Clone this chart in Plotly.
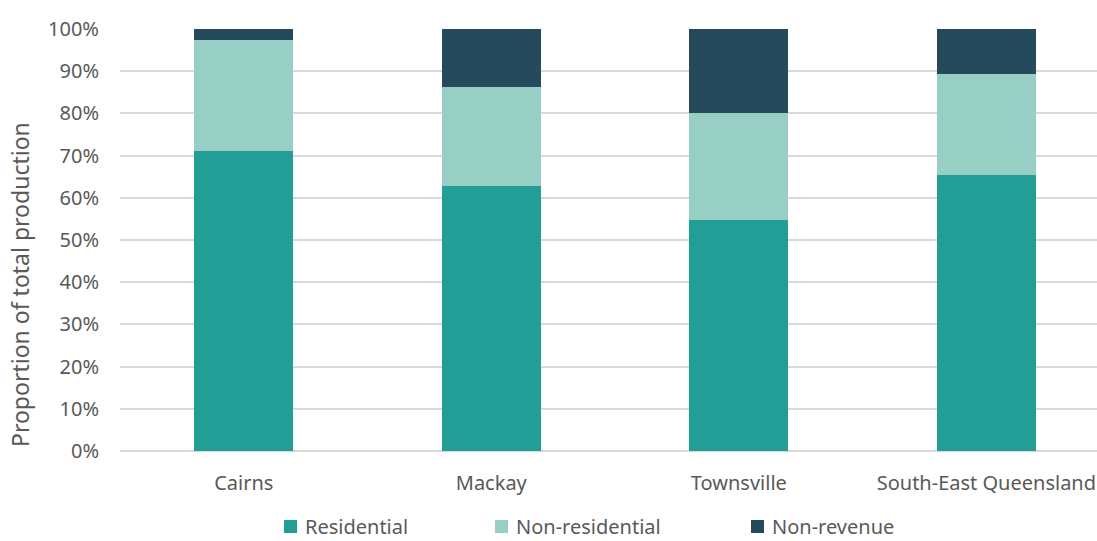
import plotly.graph_objects as go

categories = ["Cairns", "Mackay", "Townsville", "South-East Queensland"]
residential = [0.711, 0.628, 0.547, 0.654]
non_residential = [0.262, 0.235, 0.254, 0.240]
non_revenue = [0.027, 0.137, 0.199, 0.106]
tick_vals = [0, 0.1, 0.2, 0.3, 0.4, 0.5, 0.6, 0.7, 0.8, 0.9, 1.0]
tick_text = ["0%", "10%", "20%", "30%", "40%", "50%", "60%", "70%", "80%", "90%", "100%"]
y_title = "Proportion of total production"

series_names = ["Residential", "Non-residential", "Non-revenue"]
series_values = [residential, non_residential, non_revenue]
series_colors = ["#239E97", "#97CFC5", "#254A5B"]

# page-pixel geometry of the plot area (for placing the custom legend / title)
PL, PR, PT, PB = 120, 1097, 29, 451
def px_x(x):
    return (x - PL) / (PR - PL)
def px_y(y):
    return (PB - y) / (PB - PT)

legend_marker_left = [284, 495, 751]
LEG_Y = 526

fig = go.Figure()
for name, vals, color in zip(series_names, series_values, series_colors):
    fig.add_trace(go.Bar(
        x=categories, y=vals, name=name, marker_color=color,
        marker_line_width=0, width=0.4, showlegend=False,
    ))

shapes = []
annotations = [dict(text=y_title, textangle=-90, xref="paper", yref="paper",
                    x=px_x(20), y=px_y(285), xanchor="center", yanchor="middle",
                    showarrow=False, font=dict(size=23, color="#595959"))]
for name, color, left in zip(series_names, series_colors, legend_marker_left):
    shapes.append(dict(type="rect", xref="paper", yref="paper",
                       x0=px_x(left), x1=px_x(left + 13), y0=px_y(LEG_Y + 7), y1=px_y(LEG_Y - 6),
                       fillcolor=color, line_width=0))
    annotations.append(dict(text=name, xref="paper", yref="paper",
                            x=px_x(left + 19), y=px_y(LEG_Y), xanchor="left", yanchor="middle",
                            showarrow=False, font=dict(size=20, color="#595959")))

font = "Noto Sans, Open Sans, sans-serif"
fig.update_layout(
    barmode="stack",
    width=1097, height=541,
    margin=dict(l=PL, r=1097 - PR, t=PT, b=541 - PB, autoexpand=False),
    paper_bgcolor="white", plot_bgcolor="white",
    font=dict(family=font, color="#595959", size=20),
    showlegend=False,
    xaxis=dict(range=[-0.5, 3.447], showgrid=False, showline=False, ticks="",
               ticklabelstandoff=18,
               tickfont=dict(size=20, color="#595959")),
    yaxis=dict(range=[0, 1], tickvals=tick_vals, ticktext=tick_text,
               showgrid=True, gridcolor="#D9D9D9", gridwidth=1.5,
               zeroline=True, zerolinecolor="#D9D9D9", zerolinewidth=1.5,
               showline=False, ticks="", ticklabelstandoff=20,
               tickfont=dict(size=20, color="#595959")),
    shapes=shapes,
    annotations=annotations,
)

fig.write_html("out.html")
